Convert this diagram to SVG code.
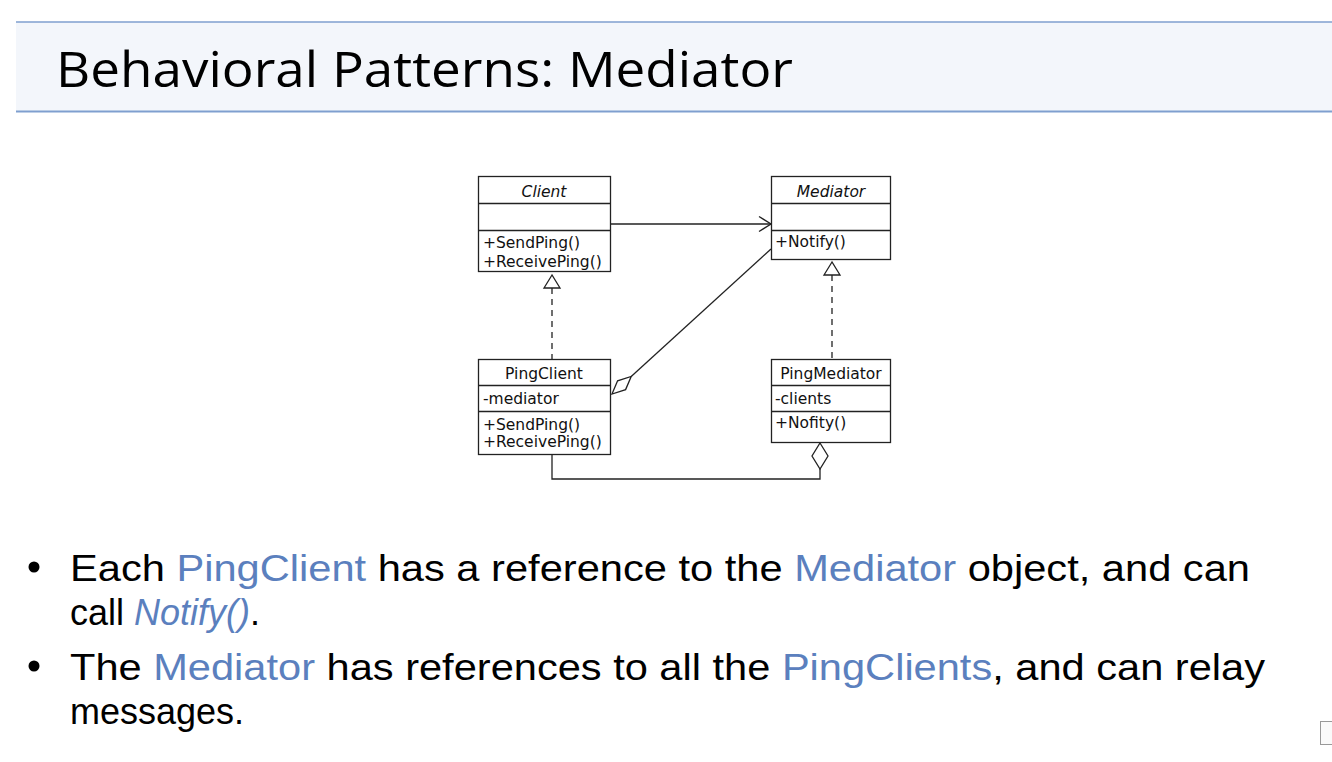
<svg xmlns="http://www.w3.org/2000/svg" width="1332" height="762" viewBox="0 0 1332 762">
<style>
.box{fill:#fff;stroke:#222;stroke-width:1.3}
.sep{stroke:#222;stroke-width:1.3}
.u{font-family:"DejaVu Sans",sans-serif;font-size:15.5px;fill:#111}
.ui{font-style:italic}
.c{text-anchor:middle}
.ln{fill:none;stroke:#222;stroke-width:1.3}
.dash{stroke-dasharray:6,5}
.tri{fill:#fff;stroke:#222;stroke-width:1.3}
.b{font-family:"Liberation Sans",Arial,sans-serif;font-size:36px;fill:#000}
.bl{fill:#5B80BE}
</style>
<g id="header">
<rect x="16" y="22" width="1316" height="89" fill="#F3F6FB"/>
<line x1="16" y1="22" x2="1332" y2="22" stroke="#7F9FCF" stroke-width="1.5"/>
<line x1="16" y1="111.5" x2="1332" y2="111.5" stroke="#7F9FCF" stroke-width="2"/>
<text x="56" y="87" font-family="Open Sans, sans-serif" font-size="50" fill="#000" textLength="737" lengthAdjust="spacingAndGlyphs">Behavioral Patterns: Mediator</text>
</g>
<g id="connectors">
<line class="ln" x1="611" y1="224" x2="771" y2="224"/>
<polyline class="ln" points="759,216.5 771,224 759,231.5"/>
<line class="ln dash" x1="552" y1="288" x2="552" y2="359"/>
<polygon class="tri" points="552,275 544,288 560,288"/>
<line class="ln dash" x1="832" y1="275" x2="832" y2="359"/>
<polygon class="tri" points="832,262 824,275 840,275"/>
<line class="ln" x1="631.2" y1="376.5" x2="771" y2="249"/>
<polygon class="tri" points="612,394 617.6,380.8 631.2,376.5 625.6,389.6"/>
<polyline class="ln" points="552,454 552,479 820,479 820,469"/>
<polygon class="tri" points="820,443 828,456 820,469 812,456"/>
</g>
<g id="Client">
<rect class="box" x="478.5" y="176.5" width="132" height="95"/>
<line class="sep" x1="478.5" y1="203.5" x2="610.5" y2="203.5"/>
<line class="sep" x1="478.5" y1="230.5" x2="610.5" y2="230.5"/>
<text class="u ui c" x="544" y="197">Client</text>
<text class="u" x="483" y="248">+SendPing()</text>
<text class="u" x="483" y="267">+ReceivePing()</text>
</g>
<g id="Mediator">
<rect class="box" x="771.5" y="176.5" width="119" height="83"/>
<line class="sep" x1="771.5" y1="203.5" x2="890.5" y2="203.5"/>
<line class="sep" x1="771.5" y1="230.5" x2="890.5" y2="230.5"/>
<text class="u ui c" x="831" y="197">Mediator</text>
<text class="u" x="775" y="247">+Notify()</text>
</g>
<g id="PingClient">
<rect class="box" x="478.5" y="359.5" width="132" height="95"/>
<line class="sep" x1="478.5" y1="385.5" x2="610.5" y2="385.5"/>
<line class="sep" x1="478.5" y1="411.5" x2="610.5" y2="411.5"/>
<text class="u c" x="544" y="379">PingClient</text>
<text class="u" x="483" y="404">-mediator</text>
<text class="u" x="483" y="430">+SendPing()</text>
<text class="u" x="483" y="447">+ReceivePing()</text>
</g>
<g id="PingMediator">
<rect class="box" x="771.5" y="359.5" width="119" height="83"/>
<line class="sep" x1="771.5" y1="385.5" x2="890.5" y2="385.5"/>
<line class="sep" x1="771.5" y1="411.5" x2="890.5" y2="411.5"/>
<text class="u c" x="831" y="379">PingMediator</text>
<text class="u" x="775" y="404">-clients</text>
<text class="u" x="775" y="428">+Nofity()</text>
</g>
<g id="bullets">
<circle cx="34" cy="567" r="5.5" fill="#000"/>
<circle cx="34" cy="666" r="5.5" fill="#000"/>
<text class="b" x="70" y="581" textLength="1180" lengthAdjust="spacingAndGlyphs">Each <tspan class="bl">PingClient</tspan> has a reference to the <tspan class="bl">Mediator</tspan> object, and can</text>
<text class="b" x="70" y="625">call <tspan class="bl" font-style="italic">Notify()</tspan>.</text>
<text class="b" x="70" y="680" textLength="1195" lengthAdjust="spacingAndGlyphs">The <tspan class="bl">Mediator</tspan> has references to all the <tspan class="bl">PingClients</tspan>, and can relay</text>
<text class="b" x="70" y="724">messages.</text>
</g>
<rect x="1320.5" y="721.5" width="14" height="23" fill="#fafafa" stroke="#999" stroke-width="1"/>
</svg>
